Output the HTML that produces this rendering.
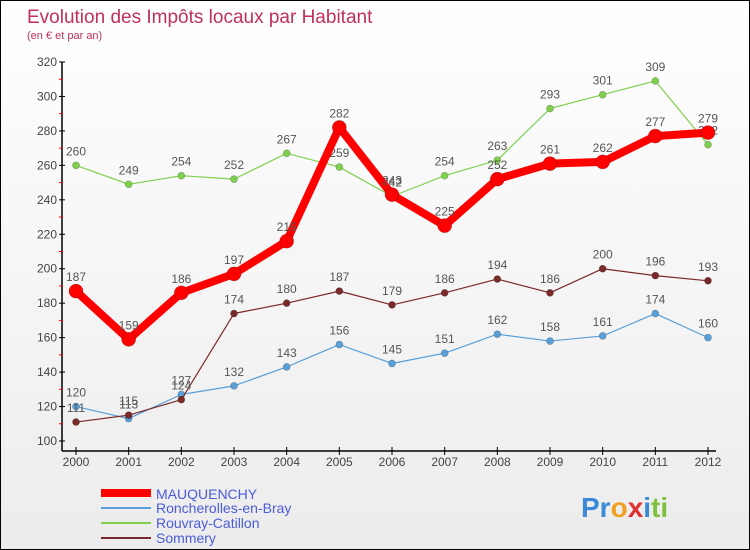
<!DOCTYPE html>
<html><head><meta charset="utf-8"><style>
body{margin:0}
#c{position:relative;width:748px;height:548px;border:1px solid #000;background:linear-gradient(#fff,#ececec);font-family:"Liberation Sans",sans-serif;overflow:hidden}
</style></head><body>
<div id="c">
<svg id="s" width="748" height="548" xmlns="http://www.w3.org/2000/svg">
<text x="26" y="22" font-size="19" fill="#c0305a">Evolution des Impôts locaux par Habitant</text>
<text x="26" y="38" font-size="11" fill="#c0305a">(en € et par an)</text>
<g id="axes"></g><g id="series"></g>
<g>
<line x1="100" y1="492" x2="150" y2="492" stroke="#f00" stroke-width="8"/>
<text x="155" y="498" font-size="14" fill="#4a5cd8">MAUQUENCHY</text>
<line x1="100" y1="507" x2="150" y2="507" stroke="#5aa0d8" stroke-width="2"/>
<text x="155" y="512" font-size="14" fill="#4a5cd8">Roncherolles-en-Bray</text>
<line x1="100" y1="522" x2="150" y2="522" stroke="#80d050" stroke-width="2"/>
<text x="155" y="527" font-size="14" fill="#4a5cd8">Rouvray-Catillon</text>
<line x1="100" y1="537" x2="150" y2="537" stroke="#7a2a2a" stroke-width="2"/>
<text x="155" y="542" font-size="14" fill="#4a5cd8">Sommery</text>
</g>
<text x="580" y="516" font-size="28" font-weight="bold"><tspan fill="#3a8ad8">Pr</tspan><tspan fill="#f0a020">o</tspan><tspan fill="#e03030">x</tspan><tspan fill="#3a8ad8">i</tspan><tspan fill="#80c040">ti</tspan></text>
</svg>
</div>
<script>
const years=[2000,2001,2002,2003,2004,2005,2006,2007,2008,2009,2010,2011,2012];
const yTicks=[100,120,140,160,180,200,220,240,260,280,300,320];
const mauquenchy=[187,159,186,197,216,282,243,225,252,261,262,277,279];
const roncherolles=[120,113,127,132,143,156,145,151,162,158,161,174,160];
const rouvray=[260,249,254,252,267,259,242,254,263,293,301,309,272];
const sommery=[111,115,124,174,180,187,179,186,194,186,200,196,193];
const NS="http://www.w3.org/2000/svg";
const xOf=i=>75+i*(707-75)/(years.length-1);
const yOf=v=>440-(v-100)*(440-61)/220;
function mk(t,a,p){const e=document.createElementNS(NS,t);for(const k in a)e.setAttribute(k,a[k]);p.appendChild(e);return e;}
const ax=document.getElementById('axes');
let e=mk('line',{x1:61,y1:61,x2:61,y2:450,stroke:'#000','stroke-width':1.5},ax);


e=mk('line',{x1:61,y1:450,x2:715,y2:450,stroke:'#000','stroke-width':1.5},ax);


yTicks.forEach((v,i)=>{const y=yOf(v);mk('line',{x1:58,y1:y,x2:64,y2:y,stroke:'#000'},ax);
if(i<yTicks.length-1)mk('line',{x1:58,y1:yOf(v+10),x2:62,y2:yOf(v+10),stroke:'#f00'},ax);
const t=mk('text',{x:56,y:y+4,'font-size':12,fill:'#444','text-anchor':'end'},ax);t.textContent=v;

});
years.forEach((yr,i)=>{const x=xOf(i);mk('line',{x1:x,y1:446,x2:x,y2:454,stroke:'#000'},ax);
const t=mk('text',{x:x,y:465,'font-size':12,fill:'#444','text-anchor':'middle'},ax);t.textContent=yr;

});
const sg=document.getElementById('series');
function series(name,vals,col,w,r){const g=mk('g',{},sg);


mk('polyline',{points:vals.map((v,i)=>xOf(i)+','+yOf(v)).join(' '),fill:'none',stroke:col,'stroke-width':w,'stroke-linejoin':'round'},g);
vals.forEach((v,i)=>{const c=mk('circle',{cx:xOf(i),cy:yOf(v),r:r,fill:col,stroke:'rgba(0,0,0,0.3)','stroke-width':0.6},g);


const t=mk('text',{x:xOf(i),y:yOf(v)-10,'font-size':12,fill:'#555','text-anchor':'middle'},g);t.textContent=v;

});}
series('rouvray',rouvray,'#80d050',1.2,3.5);
series('roncherolles',roncherolles,'#5aa0d8',1.2,3.5);
series('sommery',sommery,'#7a2a2a',1.2,3.5);
series('mauquenchy',mauquenchy,'#f00',8,7);
</script>
</body></html>
